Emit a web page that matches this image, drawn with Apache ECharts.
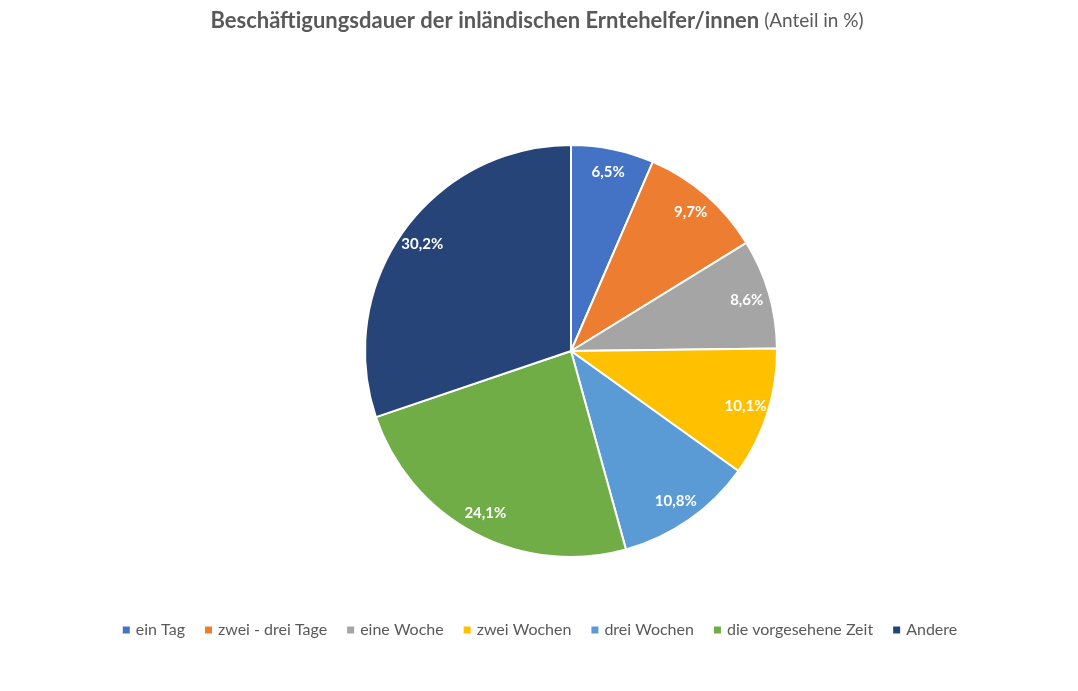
<!DOCTYPE html>
<html><head><meta charset="utf-8">
<script src="https://cdn.jsdelivr.net/npm/echarts@6/dist/echarts.min.js"></script>
<style>html,body{margin:0;padding:0;background:#fff}#c{width:1078px;height:691px}</style>
</head><body><div id="c"></div>
<script>
const categories = ["ein Tag", "zwei - drei Tage", "eine Woche", "zwei Wochen", "drei Wochen", "die vorgesehene Zeit", "Andere"];
const values = [6.5, 9.7, 8.6, 10.1, 10.8, 24.1, 30.2];
const colors = ["#4472C4", "#ED7D31", "#A5A5A5", "#FFC000", "#5B9BD5", "#70AD47", "#264478"];
const fmt = v => v.toFixed(1).replace('.', ',') + '%';
const data = categories.map((n, i) => ({ name: n, value: values[i], itemStyle: { color: colors[i] } }));
const labelData = categories.map((n, i) => ({ name: n, value: values[i] }));
const chart = echarts.init(document.getElementById('c'), null, { renderer: 'canvas' });
const FONT = 'Lato, "Open Sans", sans-serif';
chart.setOption({
  animation: false,
  title: {
    text: '{b|Beschäftigungsdauer der inländischen Erntehelfer/innen} {n|(Anteil in %)}',
    left: 532, top: 5, textAlign: 'center',
    textStyle: {
      rich: {
        b: { fontFamily: FONT, fontSize: 22, fontWeight: 'bold', color: '#595959' },
        n: { fontFamily: FONT, fontSize: 19, fontWeight: 'normal', color: '#595959' }
      }
    }
  },
  legend: {
    bottom: 48, left: 'center', icon: 'rect', itemWidth: 9, itemHeight: 9, itemGap: 18,
    textStyle: { fontFamily: FONT, fontSize: 16, color: '#595959' },
    data: categories
  },
  series: [
    {
      type: 'pie', center: [571, 351], radius: [0, 206], startAngle: 90, clockwise: true,
      itemStyle: { borderColor: '#fff', borderWidth: 2 },
      label: { show: false }, labelLine: { show: false }, emphasis: { disabled: true },
      data: data
    },
    {
      type: 'pie', center: [571, 351], radius: [154, 206], startAngle: 90, clockwise: true, silent: true,
      itemStyle: { color: 'rgba(0,0,0,0)' }, emphasis: { disabled: true },
      label: { show: true, position: 'inside', formatter: p => fmt(p.value),
        fontFamily: FONT, fontSize: 15, fontWeight: 'bold', color: '#fff' },
      labelLine: { show: false },
      data: labelData
    }
  ]
});
</script></body></html>
